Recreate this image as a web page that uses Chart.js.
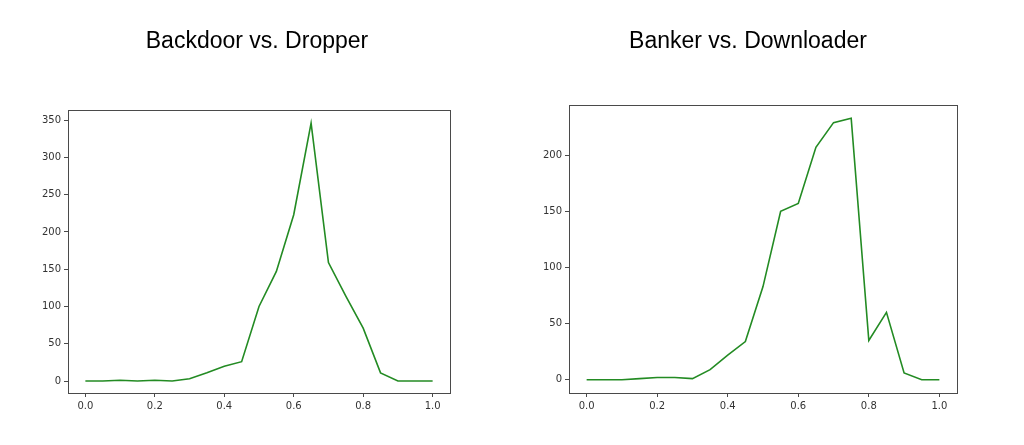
<!DOCTYPE html>
<html>
<head>
<meta charset="utf-8">
<script src="https://cdn.jsdelivr.net/npm/chart.js@4/dist/chart.umd.min.js"></script>
<style>
  html, body { margin: 0; padding: 0; background: #fff; }
  body { width: 1024px; height: 445px; position: relative; overflow: hidden; }
  .wrap { position: absolute; top: 0; width: 512px; height: 445px; }
  #wrap-left { left: 0; }
  #wrap-right { left: 512px; }
  .title {
    position: absolute; top: 26px; width: 400px; margin-left: -200px;
    text-align: center; font-family: 'Liberation Sans', Arial, sans-serif;
    font-size: 23px; line-height: 28px; color: #000;
  }
</style>
</head>
<body>
<div class="wrap" id="wrap-left"><canvas id="chart-left"></canvas></div>
<div class="wrap" id="wrap-right"><canvas id="chart-right"></canvas></div>
<div class="title" style="left:257px">Backdoor vs. Dropper</div>
<div class="title" style="left:748px">Banker vs. Downloader</div>
<script>
// --- data ---
const thresholds = [0.0, 0.05, 0.1, 0.15, 0.2, 0.25, 0.3, 0.35, 0.4, 0.45, 0.5,
                    0.55, 0.6, 0.65, 0.7, 0.75, 0.8, 0.85, 0.9, 0.95, 1.0];
const backdoorDropper = [0, 0, 1, 0, 1, 0, 3, 11, 20, 26, 100,
                         147, 223, 346, 159, 114, 71, 11, 0, 0, 0];
const bankerDownloader = [0, 0, 0, 1, 2, 2, 1, 9, 22, 34, 83,
                          150, 157, 207, 229, 233, 35, 60, 6, 0, 0];
const xTickLabels = [0.0, 0.2, 0.4, 0.6, 0.8, 1.0];
const leftYTicks = [0, 50, 100, 150, 200, 250, 300, 350];
const rightYTicks = [0, 50, 100, 150, 200];

const LINE = '#238b23';
const SPINE = '#4a4a4a';
const TEXT = '#333333';
const tickFont = { family: 'DejaVu Sans', size: 10 };

// draws the full box around the plot area (matplotlib style spines)
const frame = {
    id: 'frame',
    afterDraw(chart) {
        const { ctx, chartArea: a } = chart;
        ctx.save();
        ctx.strokeStyle = SPINE;
        ctx.lineWidth = 1;
        ctx.strokeRect(Math.round(a.left) + 0.5, Math.round(a.top) + 0.5,
                       Math.round(a.right - a.left), Math.round(a.bottom - a.top));
        ctx.restore();
    }
};

const makeChart = (id, values, yTicks, yMin, yMax, pad, yAxisWidth) => {
    return new Chart(document.getElementById(id), {
        type: 'line',
        data: {
            datasets: [{
                data: thresholds.map((x, i) => ({ x, y: values[i] })),
                borderColor: LINE, borderWidth: 1.6,
                pointRadius: 0, tension: 0, fill: false
            }]
        },
        options: {
            responsive: true, maintainAspectRatio: false, animation: false,
            layout: { padding: pad },
            plugins: {
                legend: { display: false },
                tooltip: { enabled: false }
            },
            scales: {
                x: {
                    type: 'linear', min: -0.05, max: 1.05,
                    afterBuildTicks: (axis) => { axis.ticks = xTickLabels.map(v => ({ value: v })); },
                    afterFit: (axis) => { axis.height = 52; },
                    ticks: { color: TEXT, font: tickFont, padding: 3, maxRotation: 0,
                             callback: (v) => Number(v).toFixed(1) },
                    grid: { drawOnChartArea: false, tickLength: 4, tickColor: SPINE },
                    border: { color: SPINE }
                },
                y: {
                    type: 'linear', min: yMin, max: yMax,
                    afterBuildTicks: (axis) => { axis.ticks = yTicks.map(v => ({ value: v })); },
                    afterFit: (axis) => { axis.width = yAxisWidth; },
                    ticks: { color: TEXT, font: tickFont, padding: 3 },
                    grid: { drawOnChartArea: false, tickLength: 4, tickColor: SPINE },
                    border: { color: SPINE }
                }
            }
        },
        plugins: [frame]
    });
};

// left panel: plot box x 68..450, y 110..393
makeChart('chart-left', backdoorDropper, leftYTicks, -16, 363.5,
          { left: 0, right: 62, top: 110, bottom: 0 }, 68);
// right panel: plot box x 569..957, y 105..393 (canvas starts at 512)
makeChart('chart-right', bankerDownloader, rightYTicks, -11.8, 244.7,
          { left: 0, right: 67, top: 105, bottom: 0 }, 57);
</script>
</body>
</html>
